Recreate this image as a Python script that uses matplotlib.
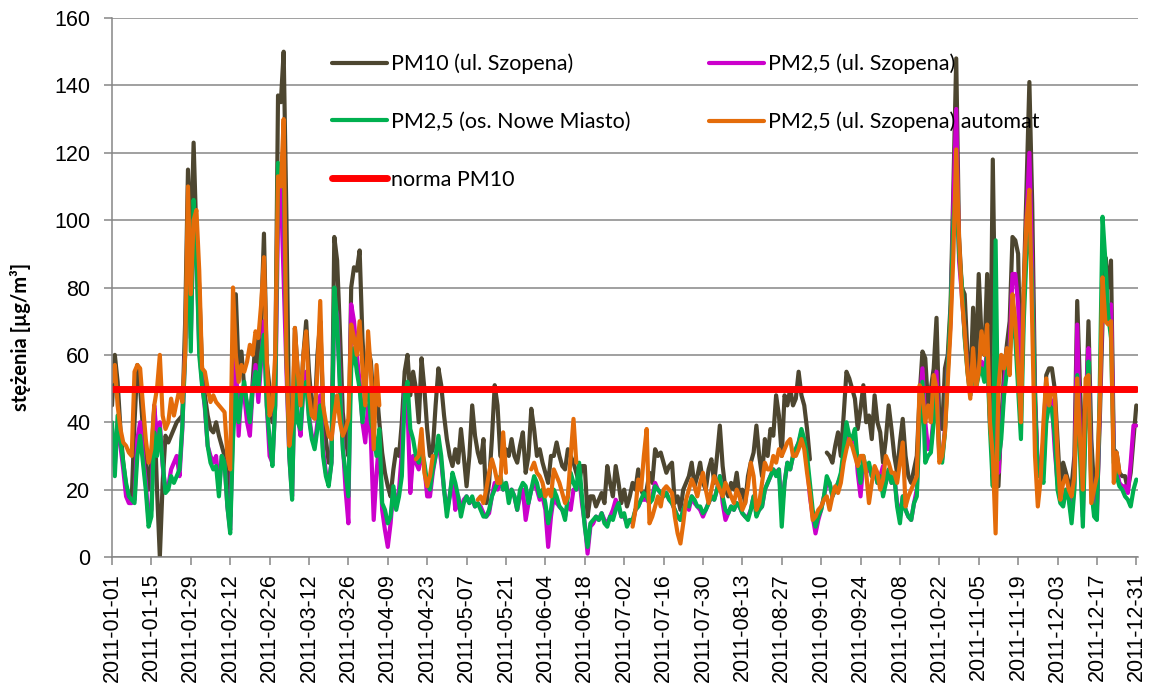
import numpy as np
import pandas as pd
import matplotlib
matplotlib.use('Agg')
import matplotlib.pyplot as plt

nan = np.nan

dates = pd.date_range('2011-01-01', '2011-12-31', freq='D')

# PM10 (ul. Szopena), month by month
pm10 = (
    [45, 60, 52, 38, 28, 21, 18, 17, 40, 57, 50, 38, 28, 20, 30, 44, 20, 0, 22, 36, 34, 36, 38, 40, 41, 42, 70, 115, 90, 123, 95]
    + [80, 56, 48, 42, 38, 37, 40, 36, 33, 30, 25, 12, 55, 78, 55, 61, 50, 45, 40, 52, 65, 56, 70, 96, 58, 50, 40, 55]
    + [137, 135, 150, 100, 35, 30, 68, 55, 45, 60, 70, 55, 45, 42, 60, 70, 45, 35, 28, 30, 95, 88, 67, 43, 35, 30, 80, 86, 85, 91, 65]
    + [50, 62, 58, 45, 50, 40, 31, 25, 21, 18, 26, 32, 30, 40, 55, 60, 48, 55, 50, 40, 59, 50, 38, 30, 32, 45, 56, 51, 42, 35]
    + [30, 27, 32, 28, 38, 30, 21, 30, 45, 36, 31, 28, 35, 16, 22, 35, 51, 45, 30, 29, 32, 30, 35, 30, 28, 33, 37, 25, 30, 44, 38]
    + [30, 32, 28, 25, 22, 30, 30, 34, 30, 27, 26, 32, 30, 28, 25, 22, 27, 27, 12, 18, 18, 15, 17, 19, 16, 27, 22, 18, 27, 22]
    + [16, 20, 15, 18, 22, 20, 26, 20, 18, 20, 25, 22, 32, 30, 31, 28, 25, 27, 28, 16, 18, 14, 20, 22, 24, 28, 21, 24, 28, 22, 20]
    + [26, 29, 22, 30, 39, 27, 20, 18, 22, 20, 25, 18, 20, 16, 24, 28, 31, 39, 30, 24, 35, 30, 38, 36, 48, 42, 30, 48, 45, 50, 45]
    + [47, 55, 48, 45, 38, 29, nan, nan, nan, nan, nan, 31, 30, 28, 33, 37, 30, 42, 55, 53, 50, 47, 38, 44, 51, 40, 42, 35, 48, 40]
    + [37, 28, 35, 45, 38, 30, 25, 34, 41, 30, 24, 22, 26, 30, 48, 61, 59, 45, 50, 56, 71, 40, 38, 56, 60, 75, 110, 148, 95, 80, 78]
    + [60, 50, 74, 55, 84, 65, 60, 84, 42, 118, 60, 21, 40, 55, 63, 70, 95, 94, 90, 51, 80, 110, 141, 105, 50, 24, 26, 35, 54, 56]
    + [56, 50, 35, 20, 28, 25, 22, 21, 30, 76, 50, 30, 40, 70, 35, 20, 15, 40, 70, 89, 80, 88, 32, 31, 25, 24, 24, 20, 25, 35, 45]
)

# PM2,5 (ul. Szopena)
pm25_szopena = (
    [38, 27, 40, 33, 26, 18, 16, 16, 17, 35, 40, 30, 22, 11, 14, 45, 35, 40, 27, 20, 21, 26, 28, 30, 24, 38, 62, 95, 65, 100, 92]
    + [62, 52, 44, 33, 30, 28, 30, 20, 30, 28, 15, 8, 40, 60, 36, 50, 48, 40, 36, 50, 57, 46, 58, 70, 45, 30, 28, 45]
    + [100, 110, 82, 55, 30, 18, 55, 42, 36, 50, 55, 42, 36, 33, 40, 48, 32, 25, 22, 28, 75, 72, 52, 34, 20, 10, 75, 70, 60, 52, 40]
    + [34, 45, 35, 11, 25, 35, 14, 8, 3, 10, 20, 15, 20, 31, 50, 45, 19, 30, 28, 26, 30, 27, 18, 18, 25, 30, 34, 28, 20, 14]
    + [18, 24, 14, 18, 14, 17, 18, 16, 17, 15, 16, 15, 13, 12, 13, 18, 22, 20, 22, 20, 22, 18, 20, 18, 14, 18, 20, 11, 16, 20, 22]
    + [20, 17, 18, 14, 3, 12, 18, 16, 15, 14, 12, 16, 14, 20, 20, 24, 16, 10, 1, 9, 10, 12, 11, 13, 11, 10, 12, 14, 17, 15]
    + [12, 12, 10, 11, 10, 14, 15, 17, 17, 17, 16, 18, 22, 20, 19, 18, 19, 17, 16, 14, 12, 11, 14, 16, 14, 18, 16, 15, 14, 12, 14]
    + [16, 18, 17, 20, 24, 16, 11, 13, 15, 14, 16, 15, 13, 12, 12, 14, 18, 14, 14, 15, 20, 22, 24, 26, 25, 26, 14, 22, 28, 26, 30]
    + [32, 34, 37, 34, 28, 18, 12, 7, 11, 14, 18, 22, 22, 18, 20, 22, 24, 30, 38, 35, 34, 36, 25, 18, 28, 25, 27, 24, 26, 22]
    + [24, 27, 22, 26, 22, 24, 16, 12, 18, 14, 12, 11, 16, 20, 45, 56, 40, 32, 33, 42, 55, 30, 29, 38, 56, 70, 105, 133, 88, 78, 66]
    + [56, 48, 58, 50, 56, 58, 54, 62, 40, 30, 55, 25, 38, 50, 60, 62, 84, 84, 75, 45, 75, 100, 120, 85, 45, 27, 26, 25, 45, 48]
    + [46, 32, 22, 17, 16, 20, 18, 12, 22, 69, 35, 12, 45, 62, 22, 14, 12, 45, 78, 75, 70, 75, 30, 26, 22, 21, 21, 19, 28, 39, 39]
)

# PM2,5 (os. Nowe Miasto)
pm25_nowe_miasto = (
    [40, 24, 42, 35, 28, 22, 18, 17, 16, 30, 36, 28, 20, 9, 12, 37, 30, 38, 28, 19, 20, 24, 22, 24, 26, 39, 60, 100, 61, 106, 90]
    + [60, 51, 45, 33, 28, 26, 27, 18, 30, 28, 15, 7, 35, 50, 40, 48, 52, 45, 40, 50, 55, 50, 60, 66, 45, 35, 27, 45]
    + [117, 115, 118, 60, 30, 17, 55, 40, 38, 50, 52, 41, 35, 32, 38, 45, 30, 24, 21, 28, 80, 70, 50, 32, 25, 18, 56, 62, 55, 50, 40]
    + [48, 50, 40, 37, 30, 38, 16, 14, 10, 12, 21, 14, 18, 24, 48, 52, 38, 35, 30, 28, 32, 28, 22, 20, 26, 30, 36, 30, 20, 12]
    + [18, 25, 22, 18, 12, 16, 18, 16, 18, 15, 16, 14, 12, 12, 14, 18, 20, 22, 24, 20, 22, 16, 20, 18, 14, 20, 22, 21, 16, 20, 24]
    + [22, 18, 20, 16, 10, 14, 20, 18, 15, 14, 11, 18, 25, 22, 20, 28, 18, 9, 3, 10, 11, 12, 11, 13, 10, 9, 12, 11, 14, 16]
    + [12, 13, 9, 11, 11, 14, 15, 17, 19, 18, 16, 17, 21, 20, 19, 18, 19, 17, 16, 14, 12, 11, 14, 16, 15, 18, 17, 15, 15, 13, 14]
    + [16, 18, 17, 20, 24, 18, 14, 13, 15, 14, 16, 15, 13, 12, 11, 14, 18, 12, 14, 15, 20, 22, 24, 26, 24, 26, 9, 22, 28, 26, 30]
    + [32, 34, 38, 35, 30, 22, 14, 9, 12, 14, 18, 24, 22, 18, 20, 22, 25, 32, 40, 36, 35, 38, 28, 22, 30, 26, 28, 24, 26, 22]
    + [24, 18, 22, 26, 22, 24, 15, 10, 18, 14, 12, 11, 16, 18, 40, 52, 28, 30, 31, 40, 50, 30, 28, 37, 55, 73, 100, 110, 90, 81, 65]
    + [55, 48, 58, 50, 54, 56, 52, 60, 38, 21, 94, 29, 35, 48, 55, 60, 70, 65, 50, 35, 70, 90, 100, 80, 45, 24, 25, 22, 40, 45]
    + [44, 36, 20, 16, 15, 20, 17, 10, 20, 54, 30, 9, 40, 58, 20, 12, 11, 50, 101, 88, 72, 65, 28, 24, 21, 20, 18, 17, 15, 20, 23]
)

# PM2,5 (ul. Szopena) automat - gaps where the analyser gave no data
pm25_automat = (
    [52, 57, 45, 38, 34, 33, 31, 30, 55, 57, 56, 45, 35, 28, 32, 45, 50, 60, 42, 38, 40, 47, 42, 46, 50, 46, 60, 110, 78, 100, 103]
    + [85, 56, 55, 50, 46, 48, 46, 45, 44, 43, 30, 26, 80, 60, 52, 57, 55, 58, 63, 60, 67, 65, 75, 89, 58, 42, 45, 60]
    + [113, 110, 130, 60, 33, 40, 68, 55, 45, 60, 67, 48, 42, 41, 55, 76, 45, 40, 36, 35, 42, 48, 40, 36, 38, 41, 69, 65, 60, 70, 56]
    + [45, 67, 55, 32, 57, 45] + [nan] * 12 + [29, 30, 38, 25, 21, 24, 30] + [nan] * 5
    + [nan] * 10 + [17, 18, 16, 20, 25, 29, 26, 22, 22, 37, 25] + [nan] * 8 + [26, 28]
    + [25, 24, 22, 18, 20, 18, 26, 24, 22, 19, 16, 18, 30, 41, 28] + [nan] * 15
    + [nan] * 4 + [9, 14, 23, 20, 30, 38, 10, 12, 15, 18, 15, 20, 21, 20, 19, 12, 7, 4, 10, 17, 20, 23, 21, 18, 22, 25, 20]
    + [16, 20, 24, 22, 20, 18, 22, 20, 18, 16, 20, 18, 14, 16, 21, 28, 24, 14, 16, 22, 28, 26, 26, 30, 28, 32, 30, 32, 34, 35, 30]
    + [30, 32, 35, 32, 25, 19, 11, 12, 14, 15, 17, 18, 14, 18, 21, 19, 22, 28, 32, 35, 33, 30, 27, 30, 30, 25, 16, 22, 27, 25]
    + [20, 23, 30, 28, 25, 25, 22, 28, 34, 15, 18, 20, 22, 24, 51, 48, 40, 45, 40, 54, 50, 28, 30, 37, 52, 68, 90, 121, 95, 77, 67]
    + [55, 47, 62, 50, 55, 67, 60, 69, 40, 30, 7, 50, 60, 56, 62, 54, 78, 70, 56, 40, 80, 100, 109, 70, 30, 15, 23, 40, 53, 45]
    + [50, 49, 30, 17, 22, 24, 20, 18, 24, 53, 35, 20, 53, 54, 16, 20, 24, 45, 83, 70, 69, 70, 22, 31, 25] + [nan] * 6
)

norma_pm10 = 50

labels = ['PM10 (ul. Szopena)', 'PM2,5 (ul. Szopena)', 'PM2,5 (os. Nowe Miasto)',
          'PM2,5 (ul. Szopena) automat', 'norma PM10']
colors = ['#4d4630', '#cc00cc', '#00b050', '#e46c0a', '#ff0000']

x = np.arange(len(dates))
series = [pm10, pm25_szopena, pm25_nowe_miasto, pm25_automat]

fig = plt.figure(figsize=(11.5, 6.88), dpi=100)
ax = fig.add_axes([112 / 1150, 1 - 557 / 688, 1026 / 1150, 539 / 688])

handles = []
for vals, lab, col in zip(series, labels[:4], colors[:4]):
    h, = ax.plot(x, np.array(vals, dtype=float), color=col, lw=3.0, label=lab,
                 solid_capstyle='round', solid_joinstyle='round')
    handles.append(h)
h, = ax.plot(x, np.full(len(x), norma_pm10), color=colors[4], lw=5.0, label=labels[4],
             solid_capstyle='round')
handles.append(h)

ax.set_xlim(0, len(x) - 1 + 0.6)
ax.set_ylim(0, 160)
ax.set_yticks(range(0, 161, 20))
ticks = x[::14]
ax.set_xticks(ticks)
ax.set_xticklabels([dates[i].strftime('%Y-%m-%d') for i in ticks], rotation=90)

grey = '#868686'
ax.grid(axis='y', color=grey, lw=1.1)
ax.set_axisbelow(True)
for s in ['top', 'right']:
    ax.spines[s].set_visible(False)
for s in ['left', 'bottom']:
    ax.spines[s].set_color(grey)
    ax.spines[s].set_linewidth(1.1)
ax.tick_params(axis='both', colors=grey, width=1.1, length=5.5, labelcolor='black')
ax.tick_params(axis='y', pad=10)
ax.tick_params(axis='x', pad=6)
for lab in ax.get_xticklabels() + ax.get_yticklabels():
    lab.set_family('Liberation Sans')
    lab.set_fontsize(15.5)

fig.text(21 / 1150, 1 - 337 / 688, 'stężenia [µg/m³]', rotation=90, ha='center', va='center',
         fontsize=14.5, fontweight='bold', family=['Lato', 'DejaVu Sans'])

font = {'family': ['Lato', 'DejaVu Sans'], 'size': 15.5}
opts = dict(loc='upper left', frameon=False, borderpad=0, borderaxespad=0,
            handlelength=2.55, handletextpad=0.2, labelspacing=1.75, prop=font)
leg1 = ax.legend([handles[0], handles[2], handles[4]], [labels[0], labels[2], labels[4]],
                 bbox_to_anchor=(0.2144, 0.934), **opts)
ax.add_artist(leg1)
ax.legend([handles[1], handles[3]], [labels[1], labels[3]],
          bbox_to_anchor=(0.582, 0.934), **opts)

fig.savefig('out.png', dpi=100)
